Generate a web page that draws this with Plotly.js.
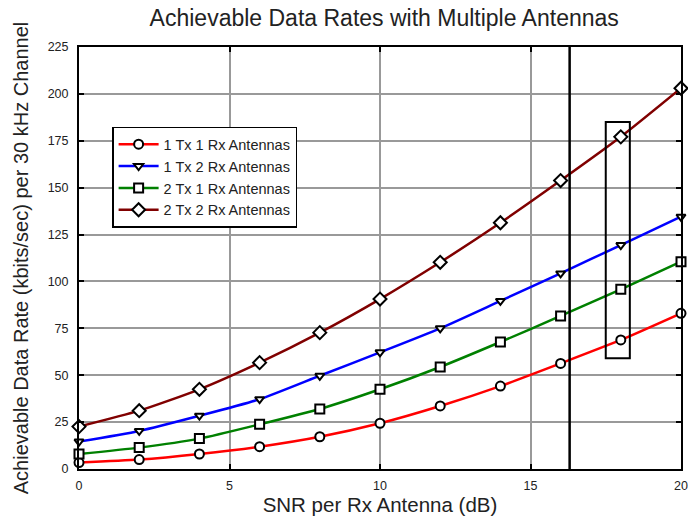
<!DOCTYPE html>
<html>
<head>
<meta charset="utf-8">
<script src="https://cdn.plot.ly/plotly-3.0.1.min.js"></script>
<style>
  html, body { margin: 0; padding: 0; background: #ffffff; }
  #chart { width: 688px; height: 521px; }
</style>
</head>
<body>
<div id="chart"></div>
<script>
// SNR per receive antenna (dB)
const snrDb = [0, 2, 4, 6, 8, 10, 12, 14, 16, 18, 20];

// Achievable data rate (kbits/sec) per 30 kHz channel
const rate1Tx1Rx = [3.4, 5.0, 8.0, 11.9, 17.2, 24.4, 33.6, 44.2, 56.3, 68.8, 83.0];
const rate1Tx2Rx = [14.6, 20.3, 28.4, 37.2, 49.7, 62.2, 75.0, 89.6, 104.3, 119.4, 134.5];
const rate2Tx1Rx = [8.0, 11.4, 16.2, 23.8, 32.0, 42.5, 54.4, 67.7, 81.6, 95.8, 110.5];
const rate2Tx2Rx = [22.6, 31.1, 42.5, 56.7, 72.7, 90.6, 110.2, 131.3, 153.8, 177.1, 203.0];

const seriesNames = ['1 Tx 1 Rx Antennas', '1 Tx 2 Rx Antennas', '2 Tx 1 Rx Antennas', '2 Tx 2 Rx Antennas'];

// Tick values
const xTicks = [0, 5, 10, 15, 20];
const yTicks = [0, 25, 50, 75, 100, 125, 150, 175, 200, 225];

// Reference line and highlight box (data units)
const refLineSnr = 16.3;
const boxSnr = [17.5, 18.3];
const boxRate = [59, 185];

const FONT = 'Liberation Sans, Arial, Helvetica, sans-serif';

function series(y, name, color, symbol, size) {
  return {
    x: snrDb, y: y, name: name, type: 'scatter', mode: 'lines+markers',
    line: { color: color, width: 2.5, shape: 'spline', smoothing: 0.6 },
    marker: { symbol: symbol, size: size, color: '#ffffff', line: { color: '#000000', width: 2 } },
    cliponaxis: false
  };
}

const data = [
  series(rate1Tx1Rx, seriesNames[0], '#ff0000', 'circle', 9),
  series(rate1Tx2Rx, seriesNames[1], '#0000ff', 'triangle-down', 8),
  series(rate2Tx1Rx, seriesNames[2], '#008000', 'square', 9),
  series(rate2Tx2Rx, seriesNames[3], '#800000', 'diamond', 10)
];

const axisCommon = {
  showline: true, linecolor: '#000000', linewidth: 2, mirror: 'ticks',
  ticks: 'inside', ticklen: 5, tickwidth: 2, tickcolor: '#000000',
  showgrid: true, gridcolor: '#999999', gridwidth: 2,
  zeroline: false,
  tickfont: { family: FONT, size: 12.5, color: '#222222' }
};

const layout = {
  width: 688, height: 521,
  margin: { l: 79, r: 7, t: 47, b: 52, pad: 0 },
  paper_bgcolor: '#ffffff', plot_bgcolor: '#ffffff',
  showlegend: true,
  title: {
    text: 'Achievable Data Rates with Multiple Antennas',
    font: { family: FONT, size: 23, color: '#222222' },
    xref: 'paper', x: 0.507, xanchor: 'center',
    yref: 'container', y: 0.965, yanchor: 'middle'
  },
  xaxis: Object.assign({}, axisCommon, {
    range: [0, 20], tickvals: xTicks, ticktext: xTicks.map(String),
    ticklabelstandoff: 4,
    title: { text: 'SNR per Rx Antenna (dB)', font: { family: FONT, size: 20.5, color: '#222222' }, standoff: 5 }
  }),
  yaxis: Object.assign({}, axisCommon, {
    range: [0, 225], tickvals: yTicks, ticktext: yTicks.map(String),
    ticklabelstandoff: 6,
    title: { text: 'Achievable Data Rate (kbits/sec) per 30 kHz Channel', font: { family: FONT, size: 20, color: '#222222' }, standoff: 14 }
  }),
  legend: {
    x: 0.055, y: 0.811, xanchor: 'left', yanchor: 'top',
    bgcolor: '#ffffff', bordercolor: '#000000', borderwidth: 1.5,
    font: { family: FONT, size: 14.5, color: '#222222' },
    itemwidth: 40,
    tracegroupgap: 0
  },
  shapes: [
    { type: 'line', xref: 'x', yref: 'paper', x0: refLineSnr, x1: refLineSnr, y0: 0, y1: 1,
      line: { color: '#000000', width: 2.5 } },
    { type: 'rect', xref: 'x', yref: 'y', x0: boxSnr[0], x1: boxSnr[1], y0: boxRate[0], y1: boxRate[1],
      line: { color: '#000000', width: 2 }, fillcolor: 'rgba(0,0,0,0)' }
  ]
};

Plotly.newPlot('chart', data, layout, { displayModeBar: false, staticPlot: true });
</script>
</body>
</html>
